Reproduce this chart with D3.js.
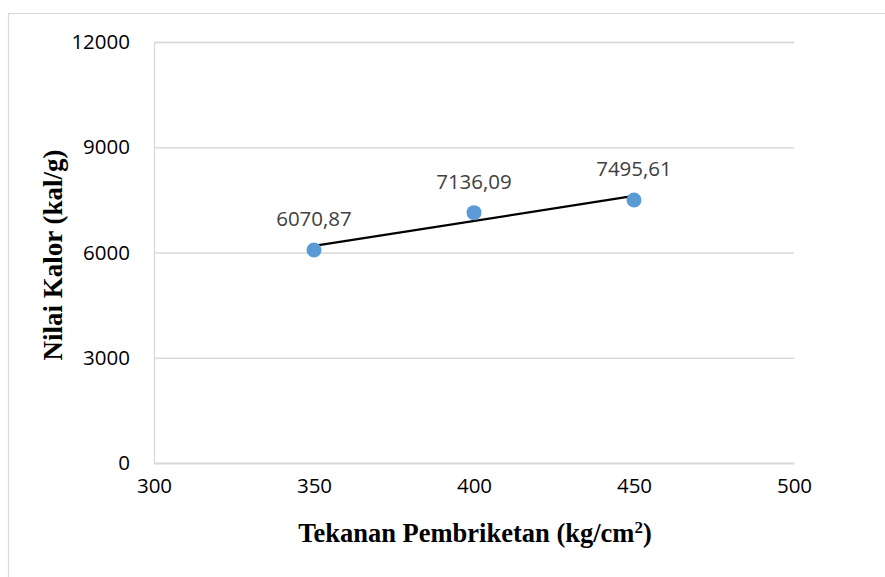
<!DOCTYPE html>
<html>
<head>
<meta charset="utf-8">
<script src="https://cdn.jsdelivr.net/npm/d3@7"></script>
<style>
  html, body { margin: 0; padding: 0; background: #ffffff; }
  svg { display: block; }
</style>
</head>
<body>
<svg id="chart" width="885" height="577"></svg>
<script>
// Pressure (kg/cm²) and calorific value (kal/g)
const pressure = [350, 400, 450];
const calorific = [6070.87, 7136.09, 7495.61];
const valueLabels = ["6070,87", "7136,09", "7495,61"];
const xTicks = [300, 350, 400, 450, 500];
const yTicks = [0, 3000, 6000, 9000, 12000];

const svg = d3.select("#chart");
const W = 885, H = 577;
const plot = { left: 154, right: 794, top: 42, bottom: 463 };

const x = d3.scaleLinear().domain([300, 500]).range([plot.left, plot.right]);
const y = d3.scaleLinear().domain([0, 12000]).range([plot.bottom, plot.top]);

const tickFont = "'Open Sans', 'Liberation Sans', sans-serif";
const titleFont = "'Liberation Serif', 'Times New Roman', serif";

// chart area frame
svg.append("rect")
  .attr("x", 8.5).attr("y", 13.5)
  .attr("width", W + 20).attr("height", H + 20)
  .attr("fill", "#ffffff")
  .attr("stroke", "#d9d9d9").attr("stroke-width", 1.2);

// horizontal gridlines + y labels
const yAxis = d3.axisLeft(y).tickValues(yTicks)
  .tickSize(-(plot.right - plot.left)).tickPadding(24)
  .tickFormat(d3.format("d"));
const gy = svg.append("g").attr("transform", `translate(${plot.left},0)`).call(yAxis);
gy.select(".domain").attr("stroke", "#d9d9d9").attr("stroke-width", 1.3);
gy.selectAll(".tick line").attr("stroke", "#d9d9d9").attr("stroke-width", 1.3);
gy.selectAll(".tick text")
  .attr("font-family", tickFont).attr("font-size", 20.5).attr("fill", "#000");

// x axis labels
const xAxis = d3.axisBottom(x).tickValues(xTicks).tickSize(0).tickPadding(15)
  .tickFormat(d3.format("d"));
const gx = svg.append("g").attr("transform", `translate(0,${plot.bottom})`).call(xAxis);
gx.select(".domain").attr("stroke", "#d9d9d9").attr("stroke-width", 1.3);
gx.selectAll(".tick text")
  .attr("font-family", tickFont).attr("font-size", 20.5).attr("fill", "#000");

// linear trendline (least squares over the series)
const n = pressure.length;
const mx = d3.mean(pressure), my = d3.mean(calorific);
let sxy = 0, sxx = 0;
for (let i = 0; i < n; i++) {
  sxy += (pressure[i] - mx) * (calorific[i] - my);
  sxx += (pressure[i] - mx) ** 2;
}
const slope = sxy / sxx, intercept = my - slope * mx;
const xMin = d3.min(pressure), xMax = d3.max(pressure);
svg.append("line")
  .attr("x1", x(xMin)).attr("y1", y(intercept + slope * xMin))
  .attr("x2", x(xMax)).attr("y2", y(intercept + slope * xMax))
  .attr("stroke", "#000").attr("stroke-width", 2.2);

// points
svg.append("g").selectAll("circle")
  .data(pressure)
  .join("circle")
  .attr("cx", (d) => x(d))
  .attr("cy", (d, i) => y(calorific[i]))
  .attr("r", 7.5)
  .attr("fill", "#5b9bd5");

// value labels
svg.append("g").selectAll("text")
  .data(pressure)
  .join("text")
  .attr("x", (d) => x(d))
  .attr("y", (d, i) => y(calorific[i]) - 24)
  .attr("text-anchor", "middle")
  .attr("font-family", tickFont).attr("font-size", 20.5)
  .attr("fill", "#404040")
  .text((d, i) => valueLabels[i]);

// axis titles
const xt = svg.append("text")
  .attr("x", 475).attr("y", 542)
  .attr("text-anchor", "middle")
  .attr("font-family", titleFont).attr("font-weight", "bold").attr("font-size", 26.5)
  .attr("fill", "#000");
xt.append("tspan").text("Tekanan Pembriketan (kg/cm");
xt.append("tspan").attr("dy", -9).attr("font-size", 17).text("2");
xt.append("tspan").attr("dy", 9).text(")");

svg.append("text")
  .attr("transform", "translate(62,255) rotate(-90)")
  .attr("text-anchor", "middle")
  .attr("font-family", titleFont).attr("font-weight", "bold").attr("font-size", 27)
  .attr("fill", "#000")
  .text("Nilai Kalor (kal/g)");
</script>
</body>
</html>
